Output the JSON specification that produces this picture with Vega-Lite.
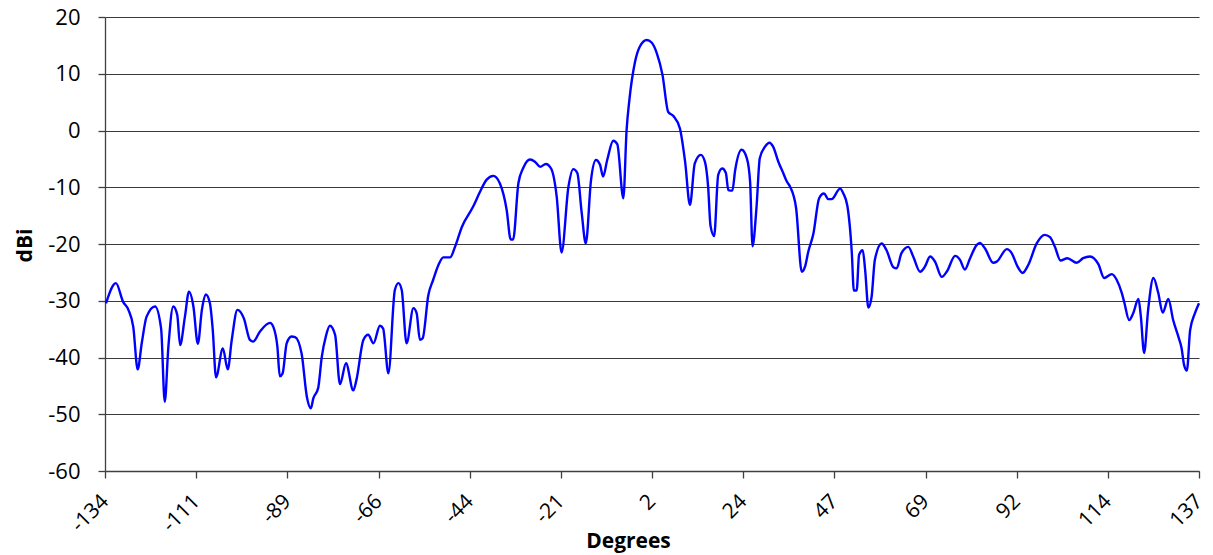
{
  "$schema": "https://vega.github.io/schema/vega-lite/v6.json",
  "width": 1094,
  "height": 454,
  "autosize": {"type": "none"},
  "padding": {"left": 105, "top": 17, "right": 14, "bottom": 84},
  "background": "white",
  "config": {"view": {"stroke": null}, "font": "Open Sans"},
  "data": {"values": [
    {"deg": -133.75, "dbi": -30.45}, {"deg": -131.3, "dbi": -26.9}, {"deg": -129.5, "dbi": -30.2}, {"deg": -128.2, "dbi": -31.6},
    {"deg": -127.0, "dbi": -34.6}, {"deg": -125.9, "dbi": -42.1}, {"deg": -124.9, "dbi": -37.5}, {"deg": -123.7, "dbi": -32.8},
    {"deg": -121.6, "dbi": -31.0}, {"deg": -120.1, "dbi": -34.9}, {"deg": -119.2, "dbi": -47.8}, {"deg": -118.3, "dbi": -38.1},
    {"deg": -117.1, "dbi": -31.0}, {"deg": -116.1, "dbi": -32.5}, {"deg": -115.4, "dbi": -37.8}, {"deg": -114.2, "dbi": -32.8},
    {"deg": -113.2, "dbi": -28.4}, {"deg": -112.1, "dbi": -31.0}, {"deg": -111.0, "dbi": -37.6}, {"deg": -110.0, "dbi": -31.6},
    {"deg": -109.0, "dbi": -28.9}, {"deg": -108.0, "dbi": -30.5}, {"deg": -107.3, "dbi": -35.2}, {"deg": -106.5, "dbi": -43.5},
    {"deg": -104.8, "dbi": -38.4}, {"deg": -103.6, "dbi": -42.1}, {"deg": -102.6, "dbi": -36.9}, {"deg": -101.2, "dbi": -31.6},
    {"deg": -99.6, "dbi": -33.1}, {"deg": -98.1, "dbi": -36.9}, {"deg": -97.3, "dbi": -37.2}, {"deg": -95.6, "dbi": -35.4},
    {"deg": -93.1, "dbi": -33.9}, {"deg": -92.3, "dbi": -34.6}, {"deg": -91.3, "dbi": -38.1}, {"deg": -90.7, "dbi": -43.3},
    {"deg": -90.0, "dbi": -42.8}, {"deg": -89.0, "dbi": -37.5}, {"deg": -87.8, "dbi": -36.3}, {"deg": -86.9, "dbi": -36.4},
    {"deg": -85.3, "dbi": -39.3}, {"deg": -84.0, "dbi": -46.9}, {"deg": -83.0, "dbi": -48.95}, {"deg": -82.4, "dbi": -47.2},
    {"deg": -81.2, "dbi": -45.4}, {"deg": -80.3, "dbi": -39.9}, {"deg": -79.3, "dbi": -36.3}, {"deg": -78.3, "dbi": -34.4},
    {"deg": -77.0, "dbi": -36.0}, {"deg": -75.8, "dbi": -44.7}, {"deg": -74.3, "dbi": -41.0}, {"deg": -72.5, "dbi": -45.8},
    {"deg": -71.7, "dbi": -43.9}, {"deg": -70.0, "dbi": -36.9}, {"deg": -68.8, "dbi": -36.0}, {"deg": -67.5, "dbi": -37.5},
    {"deg": -65.9, "dbi": -34.4}, {"deg": -65.1, "dbi": -34.9}, {"deg": -63.8, "dbi": -42.8}, {"deg": -62.2, "dbi": -28.1},
    {"deg": -61.3, "dbi": -26.9}, {"deg": -60.5, "dbi": -28.1}, {"deg": -59.3, "dbi": -37.5}, {"deg": -57.6, "dbi": -31.3},
    {"deg": -56.8, "dbi": -32.2}, {"deg": -56.0, "dbi": -36.9}, {"deg": -55.3, "dbi": -36.6}, {"deg": -53.9, "dbi": -29.0},
    {"deg": -52.7, "dbi": -26.3}, {"deg": -51.4, "dbi": -23.7}, {"deg": -50.2, "dbi": -22.35}, {"deg": -48.5, "dbi": -22.35},
    {"deg": -47.3, "dbi": -20.5}, {"deg": -45.6, "dbi": -17.0}, {"deg": -42.8, "dbi": -13.4}, {"deg": -41.1, "dbi": -10.8},
    {"deg": -39.5, "dbi": -8.7}, {"deg": -37.8, "dbi": -8.0}, {"deg": -36.2, "dbi": -9.3}, {"deg": -34.5, "dbi": -14.0},
    {"deg": -33.5, "dbi": -19.2}, {"deg": -32.9, "dbi": -19.2}, {"deg": -31.6, "dbi": -9.3}, {"deg": -30.4, "dbi": -6.6},
    {"deg": -28.7, "dbi": -5.1}, {"deg": -27.5, "dbi": -5.5}, {"deg": -26.2, "dbi": -6.4}, {"deg": -24.8, "dbi": -5.9},
    {"deg": -23.5, "dbi": -6.7}, {"deg": -22.1, "dbi": -11.7}, {"deg": -20.9, "dbi": -21.5}, {"deg": -19.2, "dbi": -9.9},
    {"deg": -18.0, "dbi": -6.8}, {"deg": -17.0, "dbi": -7.5}, {"deg": -15.9, "dbi": -14.6}, {"deg": -14.9, "dbi": -19.9},
    {"deg": -13.6, "dbi": -8.7}, {"deg": -12.4, "dbi": -5.2}, {"deg": -11.4, "dbi": -6.0}, {"deg": -10.6, "dbi": -8.1},
    {"deg": -9.6, "dbi": -5.2}, {"deg": -8.1, "dbi": -1.8}, {"deg": -7.1, "dbi": -2.4}, {"deg": -5.6, "dbi": -11.95},
    {"deg": -4.8, "dbi": 0.0}, {"deg": -4.1, "dbi": 5.4}, {"deg": -2.7, "dbi": 12.1}, {"deg": -1.5, "dbi": 14.8},
    {"deg": 0.2, "dbi": 15.95}, {"deg": 1.4, "dbi": 15.5}, {"deg": 2.7, "dbi": 13.6}, {"deg": 4.1, "dbi": 9.8},
    {"deg": 5.5, "dbi": 3.3}, {"deg": 6.8, "dbi": 2.55}, {"deg": 8.4, "dbi": 0.4}, {"deg": 9.7, "dbi": -5.5},
    {"deg": 10.9, "dbi": -13.1}, {"deg": 12.1, "dbi": -5.8}, {"deg": 13.6, "dbi": -4.3}, {"deg": 14.6, "dbi": -5.5},
    {"deg": 15.4, "dbi": -9.9}, {"deg": 16.0, "dbi": -16.8}, {"deg": 16.9, "dbi": -18.6}, {"deg": 17.9, "dbi": -7.8},
    {"deg": 18.9, "dbi": -6.7}, {"deg": 19.8, "dbi": -7.5}, {"deg": 20.4, "dbi": -10.5}, {"deg": 21.4, "dbi": -10.6},
    {"deg": 22.1, "dbi": -7.0}, {"deg": 23.7, "dbi": -3.4}, {"deg": 25.0, "dbi": -4.9}, {"deg": 25.8, "dbi": -9.0},
    {"deg": 26.4, "dbi": -20.4}, {"deg": 27.4, "dbi": -13.4}, {"deg": 28.2, "dbi": -4.9}, {"deg": 29.5, "dbi": -2.85},
    {"deg": 30.6, "dbi": -2.15}, {"deg": 31.5, "dbi": -2.85}, {"deg": 32.8, "dbi": -5.5}, {"deg": 34.0, "dbi": -7.5},
    {"deg": 34.9, "dbi": -9.0}, {"deg": 35.7, "dbi": -9.9}, {"deg": 37.2, "dbi": -13.7}, {"deg": 38.6, "dbi": -24.9},
    {"deg": 39.4, "dbi": -24.0}, {"deg": 40.2, "dbi": -21.4}, {"deg": 41.5, "dbi": -18.1}, {"deg": 42.9, "dbi": -11.95},
    {"deg": 44.1, "dbi": -11.1}, {"deg": 45.2, "dbi": -12.1}, {"deg": 46.0, "dbi": -12.1}, {"deg": 48.1, "dbi": -10.25},
    {"deg": 48.9, "dbi": -11.1}, {"deg": 49.9, "dbi": -13.3}, {"deg": 51.0, "dbi": -21.6}, {"deg": 51.5, "dbi": -28.2},
    {"deg": 52.2, "dbi": -28.2}, {"deg": 52.8, "dbi": -21.9}, {"deg": 53.7, "dbi": -21.1}, {"deg": 54.3, "dbi": -24.6},
    {"deg": 55.1, "dbi": -31.2}, {"deg": 55.9, "dbi": -29.3}, {"deg": 56.7, "dbi": -22.8}, {"deg": 58.4, "dbi": -19.9},
    {"deg": 59.6, "dbi": -21.1}, {"deg": 61.3, "dbi": -24.1}, {"deg": 62.1, "dbi": -24.3}, {"deg": 63.3, "dbi": -21.6},
    {"deg": 65.0, "dbi": -20.5}, {"deg": 66.2, "dbi": -22.2}, {"deg": 67.9, "dbi": -24.9}, {"deg": 69.1, "dbi": -24.0},
    {"deg": 70.4, "dbi": -22.2}, {"deg": 71.6, "dbi": -23.1}, {"deg": 73.3, "dbi": -25.8}, {"deg": 74.5, "dbi": -24.9},
    {"deg": 76.6, "dbi": -22.1}, {"deg": 77.8, "dbi": -22.8}, {"deg": 79.0, "dbi": -24.5}, {"deg": 80.3, "dbi": -22.5},
    {"deg": 81.9, "dbi": -20.2}, {"deg": 82.7, "dbi": -19.8}, {"deg": 84.0, "dbi": -20.8}, {"deg": 86.0, "dbi": -23.3},
    {"deg": 86.9, "dbi": -23.1}, {"deg": 89.4, "dbi": -20.9}, {"deg": 90.6, "dbi": -21.6}, {"deg": 92.0, "dbi": -23.9},
    {"deg": 93.3, "dbi": -25.1}, {"deg": 94.7, "dbi": -23.7}, {"deg": 96.8, "dbi": -19.9}, {"deg": 98.8, "dbi": -18.4},
    {"deg": 100.1, "dbi": -18.8}, {"deg": 101.3, "dbi": -20.5}, {"deg": 102.7, "dbi": -22.9}, {"deg": 104.4, "dbi": -22.5},
    {"deg": 106.7, "dbi": -23.3}, {"deg": 108.3, "dbi": -22.5}, {"deg": 110.0, "dbi": -22.2}, {"deg": 112.1, "dbi": -23.6},
    {"deg": 113.5, "dbi": -26.0}, {"deg": 115.4, "dbi": -25.3}, {"deg": 116.6, "dbi": -26.3}, {"deg": 117.9, "dbi": -28.7},
    {"deg": 118.5, "dbi": -30.3}, {"deg": 119.7, "dbi": -33.4}, {"deg": 120.7, "dbi": -32.2}, {"deg": 122.0, "dbi": -29.7},
    {"deg": 122.6, "dbi": -32.8}, {"deg": 123.4, "dbi": -39.2}, {"deg": 124.4, "dbi": -31.6}, {"deg": 125.7, "dbi": -26.0},
    {"deg": 126.9, "dbi": -28.6}, {"deg": 128.0, "dbi": -32.1}, {"deg": 129.4, "dbi": -29.7}, {"deg": 130.6, "dbi": -33.4},
    {"deg": 132.0, "dbi": -36.6}, {"deg": 132.7, "dbi": -38.4}, {"deg": 133.3, "dbi": -41.3}, {"deg": 134.0, "dbi": -42.3},
    {"deg": 134.8, "dbi": -35.2}, {"deg": 136.0, "dbi": -32.2}, {"deg": 137.0, "dbi": -30.45}
  ]},
  "mark": {"type": "line", "color": "#0000ff", "strokeWidth": 2.4, "interpolate": "monotone"},
  "encoding": {
    "x": {
      "field": "deg", "type": "quantitative",
      "scale": {"domain": [-134, 137], "nice": false, "zero": false},
      "axis": {
        "values": [-134, -111.4167, -88.8333, -66.25, -43.6667, -21.0833, 1.5, 24.0833, 46.6667, 69.25, 91.8333, 114.4167, 137],
        "labelExpr": "toString(round(datum.value))",
        "title": "Degrees",
        "grid": false,
        "domainColor": "#404040", "domainWidth": 1.3,
        "tickColor": "#404040", "tickSize": 7, "tickWidth": 1.3,
        "labelAngle": -45, "labelAlign": "right", "labelBaseline": "middle",
        "labelFontSize": 21, "labelColor": "#000000", "labelPadding": 20, "labelDx": 3,
        "labelOverlap": false, "labelFlush": false, "labelBound": false,
        "titleFontSize": 21, "titleFontWeight": "bold", "titleColor": "#000000",
        "titleX": 523, "titleY": 76, "titleAnchor": null, "titleAlign": "center", "titleBaseline": "alphabetic"
      }
    },
    "y": {
      "field": "dbi", "type": "quantitative",
      "scale": {"domain": [-60, 20], "nice": false, "zero": false},
      "axis": {
        "values": [-60, -50, -40, -30, -20, -10, 0, 10, 20],
        "labelExpr": "toString(datum.value)",
        "title": "dBi",
        "grid": true, "gridColor": "#3a3a3a", "gridWidth": 1.1,
        "domainColor": "#404040", "domainWidth": 1.3,
        "tickColor": "#404040", "tickSize": 7, "tickWidth": 1.3,
        "labelFontSize": 22, "labelColor": "#000000", "labelPadding": 18,
        "labelOverlap": false, "labelFlush": false,
        "titleFontSize": 21, "titleFontWeight": "bold", "titleColor": "#000000",
        "titleX": -80, "titleY": 228, "titleAnchor": null, "titleAlign": "center", "titleBaseline": "middle"
      }
    }
  }
}
